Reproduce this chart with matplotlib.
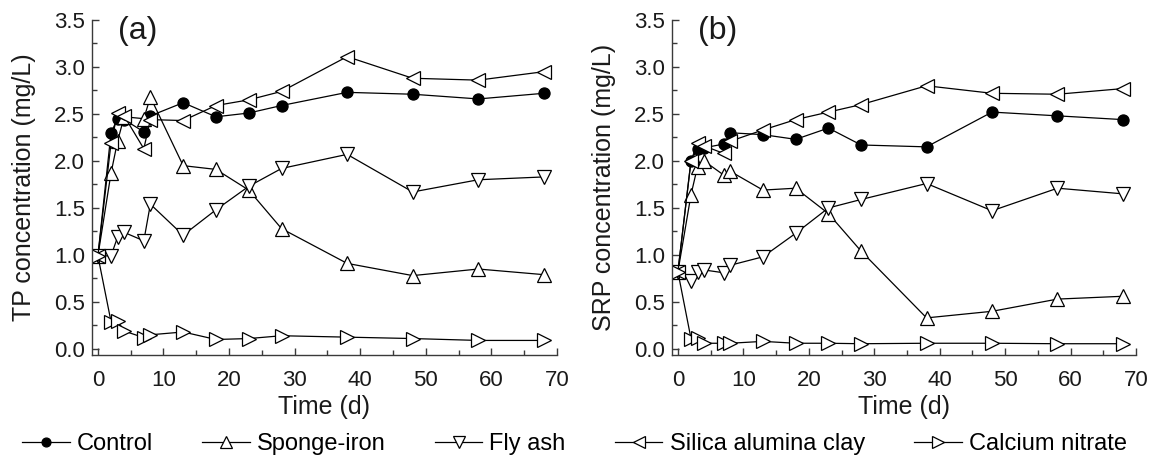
import matplotlib
matplotlib.use("Agg")
import matplotlib.pyplot as plt
from matplotlib.ticker import MultipleLocator

plt.rcParams['font.family'] = ['Liberation Sans', 'DejaVu Sans']

time_d = [0, 2, 3, 4, 7, 8, 13, 18, 23, 28, 38, 48, 58, 68]
series_names = ["Control", "Sponge-iron", "Fly ash", "Silica alumina clay", "Calcium nitrate"]

# Panel (a) TP concentration (mg/L)
tp_control = [0.99, 2.30, 2.45, 2.44, 2.31, 2.48, 2.62, 2.47, 2.51, 2.59, 2.73, 2.71, 2.66, 2.72]
tp_sponge = [0.99, 1.87, 2.21, 2.47, 2.45, 2.68, 1.95, 1.91, 1.69, 1.28, 0.91, 0.78, 0.85, 0.79]
tp_flyash = [0.99, 0.99, 1.19, 1.24, 1.15, 1.54, 1.21, 1.48, 1.73, 1.92, 2.07, 1.67, 1.80, 1.83]
tp_silica = [0.99, 2.19, 2.51, 2.48, 2.13, 2.44, 2.43, 2.59, 2.65, 2.74, 3.11, 2.88, 2.86, 2.95]
tp_calcium = [0.99, 0.29, 0.30, 0.19, 0.12, 0.15, 0.18, 0.10, 0.11, 0.14, 0.125, 0.11, 0.09, 0.09]

# Panel (b) SRP concentration (mg/L)
srp_control = [0.82, 2.00, 2.13, 2.14, 2.18, 2.30, 2.28, 2.23, 2.35, 2.17, 2.15, 2.52, 2.48, 2.44]
srp_sponge = [0.82, 1.64, 1.94, 2.00, 1.85, 1.89, 1.69, 1.71, 1.44, 1.04, 0.33, 0.40, 0.53, 0.56]
srp_flyash = [0.82, 0.72, 0.82, 0.84, 0.81, 0.89, 0.98, 1.23, 1.50, 1.59, 1.76, 1.47, 1.71, 1.65]
srp_silica = [0.82, 2.00, 2.19, 2.16, 2.08, 2.21, 2.33, 2.44, 2.52, 2.60, 2.80, 2.72, 2.71, 2.77]
srp_calcium = [0.82, 0.11, 0.12, 0.06, 0.06, 0.06, 0.08, 0.06, 0.06, 0.055, 0.06, 0.06, 0.055, 0.055]

y_ticks = [0.0, 0.5, 1.0, 1.5, 2.0, 2.5, 3.0, 3.5]
x_ticks = [0, 10, 20, 30, 40, 50, 60, 70]

styles = [
    dict(marker='o', markerfacecolor='black', markersize=8),
    dict(marker='^', markerfacecolor='white', markersize=10),
    dict(marker='v', markerfacecolor='white', markersize=10),
    dict(marker='<', markerfacecolor='white', markersize=10),
    dict(marker='>', markerfacecolor='white', markersize=10),
]

fig = plt.figure(figsize=(11.49, 4.59), dpi=100)
ax_a = fig.add_axes([92/1149, 1-355/459, 465/1149, 335/459])
ax_b = fig.add_axes([672/1149, 1-355/459, 464/1149, 335/459])

panels = [
    (ax_a, [tp_control, tp_sponge, tp_flyash, tp_silica, tp_calcium], "TP concentration (mg/L)", "(a)"),
    (ax_b, [srp_control, srp_sponge, srp_flyash, srp_silica, srp_calcium], "SRP concentration (mg/L)", "(b)"),
]

spine_col = '#3a3a3a'
txt_col = '#1a1a1a'
for ax, data, ylabel, tag in panels:
    handles = []
    for name, vals, st in zip(series_names, data, styles):
        h, = ax.plot(time_d, vals, color='black', linewidth=0.9,
                     markeredgecolor='black', markeredgewidth=0.9, label=name, **st)
        handles.append(h)
    ax.set_xlim(-0.9, 70)
    ax.set_ylim(-0.065, 3.5)
    ax.set_xticks(x_ticks)
    ax.set_yticks(y_ticks)
    ax.set_yticklabels([f"{v:.1f}" for v in y_ticks])
    ax.xaxis.set_minor_locator(MultipleLocator(5))
    ax.yaxis.set_minor_locator(MultipleLocator(0.25))
    for s in ['top', 'right']:
        ax.spines[s].set_visible(False)
    for s in ['left', 'bottom']:
        ax.spines[s].set_color(spine_col)
        ax.spines[s].set_linewidth(1.0)
    ax.tick_params(which='both', direction='in', colors=spine_col, labelcolor=txt_col, labelsize=16)
    ax.tick_params(which='major', length=5, width=1)
    ax.tick_params(which='minor', length=3.5, width=1)
    ax.tick_params(axis='x', pad=11)
    ax.tick_params(axis='y', pad=5)
    ax.set_xlabel("Time (d)", fontsize=18, color=txt_col, labelpad=3)
    ax.set_ylabel(ylabel, fontsize=18, color=txt_col, labelpad=13)
    ax.text(0.056, 1.012, tag, transform=ax.transAxes, fontsize=23, va='top', ha='left', color=txt_col)

fig.legend(handles=handles, labels=series_names, loc='center', bbox_to_anchor=(0.5, 0.033),
           ncol=5, frameon=False, fontsize=17, handlelength=2.0, handletextpad=0.3,
           columnspacing=2.1, markerscale=0.8)

fig.savefig("out.png", dpi=100)
